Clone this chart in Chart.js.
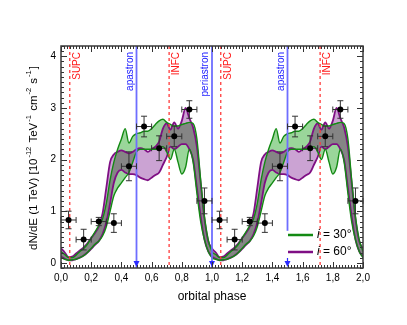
<!DOCTYPE html>
<html>
<head>
<meta charset="utf-8">
<script src="https://cdn.jsdelivr.net/npm/chart.js@4.4.0/dist/chart.umd.min.js"></script>
<style>
  html, body { margin: 0; padding: 0; background: #fff; }
</style>
</head>
<body>
<canvas id="chart" width="407" height="325"></canvas>
<script>
// Data (one orbital period, drawn twice)

var phase = [0.000, 0.025, 0.050, 0.075, 0.100, 0.125, 0.150, 0.175, 0.200, 0.225,
             0.250, 0.275, 0.300, 0.325, 0.350, 0.375, 0.400, 0.425, 0.450, 0.475,
             0.500, 0.525, 0.550, 0.575, 0.600, 0.625, 0.650, 0.675, 0.700, 0.725,
             0.750, 0.775, 0.800, 0.825, 0.850, 0.875, 0.900, 0.925, 0.950, 0.975];

// i = 30 deg band
var green30Hi = [0.22, 0.16, 0.10, 0.10, 0.15, 0.22, 0.28, 0.36, 0.48, 0.60,
                 0.72, 0.85, 1.15, 1.60, 1.95, 2.20, 2.40, 2.60, 2.32, 2.45,
                 2.50, 2.52, 2.55, 2.55, 2.60, 2.68, 2.75, 2.78, 2.72, 2.68,
                 2.65, 2.65, 2.68, 2.70, 2.72, 2.70, 2.40, 1.60, 0.90, 0.45];
var green30Lo = [0.10, 0.07, 0.05, 0.06, 0.07, 0.10, 0.14, 0.20, 0.28, 0.36,
                 0.42, 0.52, 0.70, 1.00, 1.30, 1.45, 1.55, 1.65, 1.75, 1.95,
                 2.15, 2.20, 2.20, 2.20, 2.20, 2.20, 2.22, 2.25, 2.15, 2.00,
                 2.20, 1.95, 1.72, 1.85, 2.20, 1.95, 1.35, 0.80, 0.45, 0.22];

// i = 60 deg band
var purple60Hi = [0.28, 0.20, 0.11, 0.12, 0.18, 0.24, 0.30, 0.38, 0.48, 0.58,
                  0.70, 0.95, 1.45, 1.95, 2.10, 2.15, 2.18, 2.15, 2.12, 2.15,
                  2.20, 2.22, 2.20, 2.15, 2.20, 2.25, 2.35, 2.60, 2.70, 2.58,
                  2.72, 2.60, 2.75, 3.00, 2.80, 2.62, 2.25, 1.55, 0.85, 0.42];
var purple60Lo = [0.12, 0.08, 0.05, 0.05, 0.07, 0.10, 0.14, 0.20, 0.27, 0.35,
                  0.42, 0.55, 0.78, 1.15, 1.55, 1.75, 1.80, 1.75, 1.72, 1.72,
                  1.70, 1.65, 1.62, 1.60, 1.65, 1.70, 1.75, 1.90, 2.05, 2.25,
                  2.20, 2.25, 2.30, 2.30, 2.20, 2.00, 1.45, 0.90, 0.45, 0.22];

// measured flux per phase bin
var binPhase = [0.05, 0.15, 0.25, 0.35, 0.45, 0.55, 0.65, 0.75, 0.85, 0.95];
var binFlux  = [0.83, 0.45, 0.80, 0.77, 1.87, 2.64, 2.22, 2.45, 2.97, 1.20];
var binErr   = [0.17, 0.20, 0.08, 0.18, 0.28, 0.20, 0.24, 0.20, 0.17, 0.25];
var binHalfWidth = 0.05;

// orbital markers
var markerName  = ['SUPC', 'apastron', 'INFC', 'periastron', 'SUPC', 'apastron', 'INFC'];
var markerPhase = [0.058, 0.5, 0.716, 1.0, 1.058, 1.5, 1.716];

var xTicks = [0, 0.2, 0.4, 0.6, 0.8, 1.0, 1.2, 1.4, 1.6, 1.8, 2.0];
var yTicks = [0, 1, 2, 3, 4];


// Helpers

function twoPeriods(vals) {
    var pts = [];
    for (var k = 0; k < 2; k++) {
        for (var i = 0; i < phase.length; i++) {
            pts.push({ x: phase[i] + k, y: vals[i] });
        }
    }
    pts.push({ x: 2, y: vals[0] });
    return pts;
}

// overlap of the two bands (drawn grey)
var overlapLo = phase.map(function (p, i) { return Math.max(green30Lo[i], purple60Lo[i]); });
var overlapHi = phase.map(function (p, i) {
    return Math.max(overlapLo[i], Math.min(green30Hi[i], purple60Hi[i]));
});

var binPoints = [];
for (var k = 0; k < 2; k++) {
    binPhase.forEach(function (p, i) {
        binPoints.push({ x: p + k, y: binFlux[i], err: binErr[i] });
    });
}

function bandFill(data, color, order, fill) {
    return {
        data: twoPeriods(data),
        borderWidth: 0,
        pointRadius: 0,
        backgroundColor: color,
        fill: fill,
        order: order,
        cubicInterpolationMode: 'monotone'
    };
}

function bandLine(data, color, width) {
    return {
        data: twoPeriods(data),
        borderColor: color,
        borderWidth: width,
        pointRadius: 0,
        fill: false,
        order: 1,
        cubicInterpolationMode: 'monotone'
    };
}

var GREEN = '#138a13', PURPLE = '#7f0f84';

function arrowDown(ctx, x, y) {
    ctx.beginPath();
    ctx.moveTo(x - 3, y - 6);
    ctx.lineTo(x + 3, y - 6);
    ctx.lineTo(x, y);
    ctx.closePath();
    ctx.fill();
}

var decorPlugin = {
    id: 'decor',
    beforeDatasetDraw: function (chart, args) {
        if (args.index !== 10) return;
        var ctx = chart.ctx, xs = chart.scales.x, ys = chart.scales.y, a = chart.chartArea;

        // orbital markers
        ctx.save();
        markerPhase.forEach(function (p, i) {
            var x = xs.getPixelForValue(p);
            var name = markerName[i];
            var blue = (name === 'apastron' || name === 'periastron');
            ctx.setLineDash(blue ? [] : [3, 3]);
            ctx.strokeStyle = blue ? '#6e6eff' : '#ff3b3b';
            ctx.lineWidth = blue ? 1.8 : 1.3;
            ctx.beginPath();
            ctx.moveTo(x, a.top);
            var yEnd = (p === 1.5) ? ys.getPixelForValue(0.62) : a.bottom;
            ctx.lineTo(x, yEnd);
            ctx.stroke();
            if (blue) {
                ctx.setLineDash([]);
                ctx.fillStyle = '#2a2aff';
                if (p === 1.5) {
                    ctx.strokeStyle = '#2a2aff';
                    ctx.lineWidth = 1.2;
                    ctx.beginPath();
                    ctx.moveTo(x, a.bottom - 10);
                    ctx.lineTo(x, a.bottom - 4);
                    ctx.stroke();
                }
                arrowDown(ctx, x, a.bottom - 1);
            }
            // label
            ctx.save();
            ctx.font = '10px "Liberation Sans", Arial, sans-serif';
            ctx.fillStyle = blue ? '#1a1aff' : '#ff1a1a';
            ctx.textAlign = 'right';
            if (blue) {
                ctx.translate(x - 1.5, a.top + 6);
                ctx.rotate(-Math.PI / 2);
                ctx.textBaseline = 'bottom';
            } else {
                ctx.translate(x + 2.5, a.top + 6);
                ctx.rotate(-Math.PI / 2);
                ctx.textBaseline = 'top';
            }
            ctx.fillText(name, 0, 0);
            ctx.restore();
        });
        ctx.setLineDash([]);

        // error bars
        ctx.strokeStyle = '#333';
        ctx.lineWidth = 1;
        binPoints.forEach(function (b) {
            var x = xs.getPixelForValue(b.x), y = ys.getPixelForValue(b.y);
            var x0 = xs.getPixelForValue(b.x - binHalfWidth), x1 = xs.getPixelForValue(b.x + binHalfWidth);
            var y0 = ys.getPixelForValue(b.y - b.err), y1 = ys.getPixelForValue(b.y + b.err);
            ctx.beginPath();
            ctx.moveTo(x0, y); ctx.lineTo(x1, y);
            ctx.moveTo(x0, y - 3); ctx.lineTo(x0, y + 3);
            ctx.moveTo(x1, y - 3); ctx.lineTo(x1, y + 3);
            ctx.moveTo(x, y0); ctx.lineTo(x, y1);
            ctx.moveTo(x - 3, y0); ctx.lineTo(x + 3, y0);
            ctx.moveTo(x - 3, y1); ctx.lineTo(x + 3, y1);
            ctx.stroke();
        });
        ctx.restore();
    },
    afterDraw: function (chart) {
        var ctx = chart.ctx, xs = chart.scales.x, ys = chart.scales.y, a = chart.chartArea;
        ctx.save();

        // ticks, all four sides, pointing in
        ctx.strokeStyle = '#333';
        ctx.lineWidth = 1;
        ctx.beginPath();
        for (var t = 0; t <= 100; t++) {
            var v = t * 0.02;
            var x = Math.round(xs.getPixelForValue(v)) + 0.5;
            var len = (t % 10 === 0) ? 6 : 3;
            ctx.moveTo(x, a.bottom); ctx.lineTo(x, a.bottom - len);
            ctx.moveTo(x, a.top); ctx.lineTo(x, a.top + len);
        }
        for (var u = -1; u <= 42; u++) {
            var vy = u * 0.1;
            if (vy < ys.min || vy > ys.max) continue;
            var y = Math.round(ys.getPixelForValue(vy)) + 0.5;
            var leny = (u % 10 === 0) ? 6 : 3;
            ctx.moveTo(a.left, y); ctx.lineTo(a.left + leny, y);
            ctx.moveTo(a.right, y); ctx.lineTo(a.right - leny, y);
        }
        ctx.stroke();

        // frame
        ctx.strokeStyle = '#3a3a3a';
        ctx.lineWidth = 1.5;
        ctx.strokeRect(a.left, a.top, a.right - a.left, a.bottom - a.top);

        // tick labels
        ctx.fillStyle = '#000';
        ctx.font = '10px "Liberation Sans", Arial, sans-serif';
        ctx.textAlign = 'center';
        ctx.textBaseline = 'middle';
        xTicks.forEach(function (v) {
            ctx.fillText(v.toFixed(1).replace('.', ','), xs.getPixelForValue(v), a.bottom + 10);
        });
        ctx.textAlign = 'right';
        yTicks.forEach(function (v) {
            ctx.fillText(String(v), a.left - 5, ys.getPixelForValue(v));
        });

        // x title
        ctx.font = '12px "Liberation Sans", Arial, sans-serif';
        ctx.textAlign = 'center';
        ctx.fillText('orbital phase', (a.left + a.right) / 2, a.bottom + 29);

        // y title with superscripts
        var parts = [['dN/dE (1 TeV) [10', 0], ['-12', 1], [' TeV', 0], ['-1', 1],
                     [' cm', 0], ['-2', 1], [' s', 0], ['-1', 1], [']', 0]];
        var bigFont = '11.5px "Liberation Sans", Arial, sans-serif';
        var supFont = '7.5px "Liberation Sans", Arial, sans-serif';
        var total = 0;
        parts.forEach(function (p) {
            ctx.font = p[1] ? supFont : bigFont;
            p.w = ctx.measureText(p[0]).width + (p[1] ? 2 : 0);
            total += p.w;
        });
        ctx.save();
        ctx.translate(37, 158);
        ctx.rotate(-Math.PI / 2);
        ctx.textAlign = 'left';
        ctx.textBaseline = 'alphabetic';
        var cx = -total / 2;
        parts.forEach(function (p) {
            ctx.font = p[1] ? supFont : bigFont;
            ctx.fillText(p[0], cx + (p[1] ? 1 : 0), p[1] ? -6 : 0);
            cx += p.w;
        });
        ctx.restore();

        // legend
        var legend = [[GREEN, '30°', 235], [PURPLE, '60°', 252]];
        legend.forEach(function (l) {
            ctx.strokeStyle = l[0];
            ctx.lineWidth = 2.5;
            ctx.beginPath();
            ctx.moveTo(288, l[2]); ctx.lineTo(313, l[2]);
            ctx.stroke();
            ctx.fillStyle = '#000';
            ctx.textAlign = 'left';
            ctx.textBaseline = 'middle';
            ctx.font = 'italic 12px "Liberation Sans", Arial, sans-serif';
            ctx.fillText('i', 317, l[2]);
            var w = ctx.measureText('i').width;
            ctx.font = '12px "Liberation Sans", Arial, sans-serif';
            ctx.fillText(' = ' + l[1], 317 + w, l[2]);
        });

        ctx.restore();
    }
};

new Chart(document.getElementById('chart'), {
    type: 'line',
    data: {
        datasets: [
            bandFill(green30Lo, 'transparent', 10, false),          // 0
            bandFill(green30Hi, '#9ad69a', 10, '-1'),               // 1
            bandFill(purple60Lo, 'transparent', 9, false),          // 2
            bandFill(purple60Hi, '#cba3d3', 9, '-1'),               // 3
            bandFill(overlapLo, 'transparent', 8, false),           // 4
            bandFill(overlapHi, '#858585', 8, '-1'),                // 5
            bandLine(green30Hi, GREEN, 1.4),                        // 6
            bandLine(green30Lo, GREEN, 1.4),                        // 7
            bandLine(purple60Hi, PURPLE, 1.8),                      // 8
            bandLine(purple60Lo, PURPLE, 1.8),                      // 9
            {                                                       // 10
                data: binPoints,
                showLine: false,
                pointRadius: 3,
                pointBackgroundColor: '#000',
                pointBorderColor: '#000',
                pointBorderWidth: 0,
                order: 0
            }
        ]
    },
    options: {
        responsive: false,
        animation: false,
        events: [],
        layout: { padding: { left: 61, right: 44, top: 46, bottom: 57 } },
        plugins: { legend: { display: false }, tooltip: { enabled: false } },
        scales: {
            x: { type: 'linear', min: 0, max: 2, display: false },
            y: { type: 'linear', min: -0.1, max: 4.2, display: false }
        }
    },
    plugins: [decorPlugin]
});
</script>
</body>
</html>
